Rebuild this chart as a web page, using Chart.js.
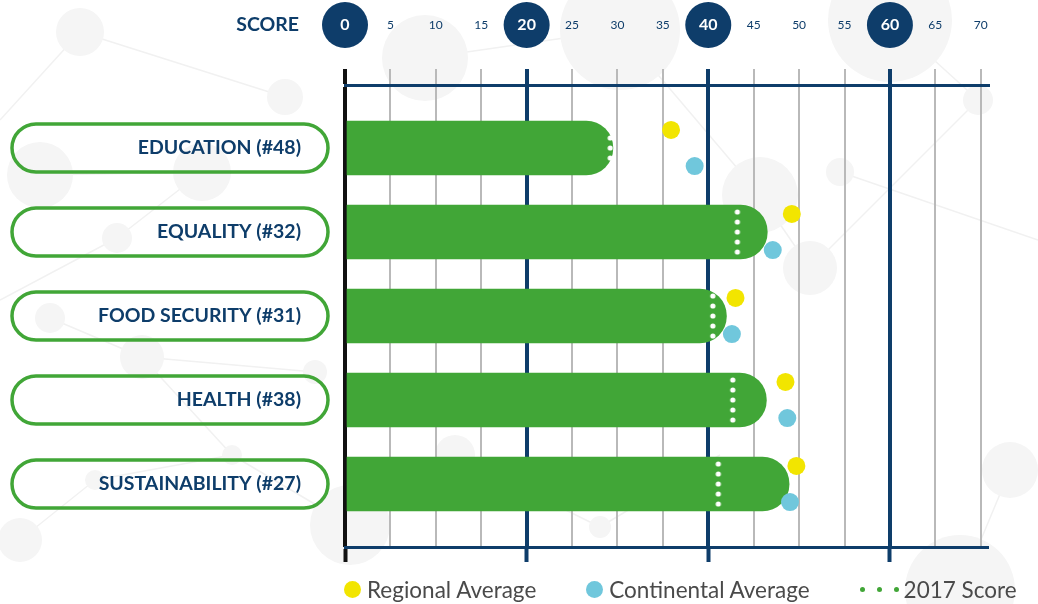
<!DOCTYPE html>
<html>
<head>
<meta charset="utf-8">
<script src="https://cdn.jsdelivr.net/npm/chart.js@4"></script>
<style>
  html, body { margin: 0; padding: 0; background: #ffffff; }
  #wrap { position: relative; width: 1038px; height: 604px; overflow: hidden; }
  #legend { position: absolute; left: 344px; top: 575px; height: 28px; display: flex; align-items: center;
            font-family: Lato, "Noto Sans", sans-serif; font-size: 22.5px; color: #4a4a4a; white-space: nowrap; }
  .item { display: flex; align-items: center; margin-right: 50px; }
  .circle { width: 17px; height: 17px; border-radius: 50%; margin-right: 6px; }
  .dots { display: flex; align-items: center; margin-right: 5px; }
  .dots span { width: 5px; height: 5px; border-radius: 50%; margin: 0 6px; }
  .dots span:first-child { margin-left: 0; }
  .dots span:last-child { margin-right: 0; }
</style>
</head>
<body>
<div id="wrap">
  <canvas id="c" width="1038" height="604"></canvas>
  <div id="legend"></div>
</div>
<script>
// ---------- data ----------
const categories = ['EDUCATION (#48)', 'EQUALITY (#32)', 'FOOD SECURITY (#31)', 'HEALTH (#38)', 'SUSTAINABILITY (#27)'];
const scores = [29.5, 46.5, 42.0, 46.4, 48.9];
const score2017 = [29.2, 43.2, 40.5, 42.7, 41.1];
const regionalAvg = [35.9, 49.2, 43.0, 48.5, 49.7];
const continentalAvg = [38.5, 47.1, 42.6, 48.7, 49.0];
const scoreTicks = [0, 5, 10, 15, 20, 25, 30, 35, 40, 45, 50, 55, 60, 65, 70];
const majorTicks = [0, 20, 40, 60];
const axisTitle = 'SCORE';
const seriesLabels = ['Regional Average', 'Continental Average', '2017 Score', 'Score'];

// ---------- style ----------
const NAVY = '#0e3d6a';
const GREEN = '#41a637';
const YELLOW = '#f2e500';
const BLUE = '#70c7dc';
const DOT_OFFSET = 0.215;   // vertical offset of average markers (in category units)

function makeDotColumn() {
  const c = document.createElement('canvas');
  c.width = 8; c.height = 50;
  const g = c.getContext('2d');
  g.fillStyle = '#ffffff';
  for (let k = 0; k < 5; k++) {
    g.beginPath();
    g.arc(4, 5 + k * 10, 2.6, 0, Math.PI * 2);
    g.fill();
  }
  return c;
}
const dotColumn = makeDotColumn();

const BG_CIRCLES = [[80,32,24],[285,97,18],[40,175,33],[202,172,29],[117,238,15],[50,318,15],[142,357,22],
  [315,372,12],[232,455,10],[95,480,10],[425,58,43],[620,30,60],[890,20,62],[978,100,15],[760,195,38],
  [810,268,27],[840,172,14],[600,527,11],[350,525,40],[455,455,20],[1010,470,28],[960,590,55],[20,540,22]];
const BG_LINES = [[80,32,285,97],[0,120,80,32],[40,175,202,172],[202,172,117,238],[117,238,0,300],
  [50,318,142,357],[142,357,315,372],[142,357,232,455],[95,480,232,455],[232,455,350,525],
  [425,58,620,30],[620,30,760,195],[760,195,810,268],[810,268,978,100],[890,20,978,100],
  [840,172,1038,240],[600,527,720,455],[455,455,600,527],[960,590,1010,470],[20,540,95,480]];

const tv = c => (c && c.tick) ? c.tick.value : NaN;
const isMajor = v => majorTicks.includes(v);
const gridColor = v => v === 0 ? '#111111' : (isMajor(v) ? NAVY : '#b9b9b9');
const gridWidth = v => isMajor(v) ? 4 : 2;

const decorPlugin = {
  id: 'decor',
  beforeDraw(chart) {
    const { ctx, chartArea, scales } = chart;
    const x = scales.x, y = scales.y;
    ctx.save();
    ctx.strokeStyle = '#f1f1f1';
    ctx.lineWidth = 1.5;
    BG_LINES.forEach(([x1, y1, x2, y2]) => { ctx.beginPath(); ctx.moveTo(x1, y1); ctx.lineTo(x2, y2); ctx.stroke(); });
    ctx.fillStyle = '#f5f5f5';
    BG_CIRCLES.forEach(([cx, cy, r]) => { ctx.beginPath(); ctx.arc(cx, cy, r, 0, Math.PI * 2); ctx.fill(); });

    const cy = chartArea.top - 60;
    ctx.fillStyle = NAVY;
    majorTicks.forEach(v => { ctx.beginPath(); ctx.arc(x.getPixelForValue(v), cy, 23, 0, Math.PI * 2); ctx.fill(); });

    ctx.font = 'bold 19.5px Lato';
    ctx.textAlign = 'right';
    ctx.textBaseline = 'middle';
    ctx.fillText(axisTitle, x.getPixelForValue(0) - 46, cy);

    ctx.strokeStyle = GREEN;
    ctx.lineWidth = 3.5;
    categories.forEach((c, i) => {
      const py = y.getPixelForValue(i);
      const left = chartArea.left - 333, w = 316, h = 48, r = 24;
      ctx.beginPath();
      ctx.roundRect(left, py - h / 2, w, h, r);
      ctx.stroke();
    });
    ctx.restore();
  }
};

const htmlLegendPlugin = {
  id: 'htmlLegend',
  afterUpdate(chart) {
    const el = document.getElementById('legend');
    el.innerHTML = '';
    const items = Chart.defaults.plugins.legend.labels.generateLabels(chart)
      .filter(it => chart.data.datasets[it.datasetIndex].type === 'scatter');
    items.forEach(it => {
      const item = document.createElement('div');
      item.className = 'item';
      const ds = chart.data.datasets[it.datasetIndex];
      const m = document.createElement('div');
      if (ds.pointStyle === dotColumn) {
        m.className = 'dots';
        for (let k = 0; k < 3; k++) { const s = document.createElement('span'); s.style.background = ds.backgroundColor; m.appendChild(s); }
      } else {
        m.className = 'circle';
        m.style.background = ds.backgroundColor;
      }
      item.appendChild(m);
      const t = document.createElement('span');
      t.textContent = it.text;
      item.appendChild(t);
      el.appendChild(item);
    });
  }
};

const setTicks = ax => { ax.ticks = scoreTicks.map(v => ({ value: v })); };

new Chart(document.getElementById('c'), {
  type: 'bar',
  data: {
    datasets: [
      { type: 'scatter', label: seriesLabels[0], data: regionalAvg.map((v, i) => ({ x: v, y: i - DOT_OFFSET })),
        backgroundColor: YELLOW, borderWidth: 0, pointRadius: 9, pointHoverRadius: 9 },
      { type: 'scatter', label: seriesLabels[1], data: continentalAvg.map((v, i) => ({ x: v, y: i + DOT_OFFSET })),
        backgroundColor: BLUE, borderWidth: 0, pointRadius: 9, pointHoverRadius: 9 },
      { type: 'scatter', label: seriesLabels[2], data: score2017.map((v, i) => ({ x: v, y: i })),
        backgroundColor: GREEN, borderWidth: 0, pointStyle: dotColumn, pointRadius: 5, pointHoverRadius: 5 },
      { type: 'bar', label: seriesLabels[3], indexAxis: 'y', data: scores.map((v, i) => ({ x: v, y: i })),
        backgroundColor: GREEN, borderWidth: 0, barThickness: 54, borderRadius: 27, borderSkipped: 'start' }
    ]
  },
  options: {
    responsive: false,
    animation: false,
    events: [],
    layout: { padding: { left: 0, right: 50, top: 16, bottom: 42 } },
    plugins: { legend: { display: false }, tooltip: { enabled: false } },
    scales: {
      x: {
        type: 'linear', position: 'top', min: 0, max: 70.8, offset: false,
        afterBuildTicks: setTicks,
        afterFit: ax => { ax.height = 69; },
        grid: {
          offset: false,
          color: c => gridColor(tv(c)), lineWidth: c => gridWidth(tv(c)),
          drawTicks: true, tickLength: 16,
          tickColor: c => gridColor(tv(c)), tickWidth: c => gridWidth(tv(c))
        },
        border: { display: true, color: NAVY, width: 3 },
        ticks: {
          padding: 35, autoSkip: false, maxRotation: 0,
          color: c => isMajor(tv(c)) ? '#ffffff' : NAVY,
          font: c => isMajor(tv(c))
            ? { family: 'Lato', size: 16, weight: 'bold', lineHeight: '18px' }
            : { family: 'Lato', size: 12, weight: 'normal', lineHeight: '18px' }
        }
      },
      x2: {
        type: 'linear', position: 'bottom', min: 0, max: 70.8, offset: false,
        afterBuildTicks: setTicks,
        afterFit: ax => { ax.height = 15; },
        grid: {
          offset: false,
          drawOnChartArea: false, drawTicks: true, tickLength: 15,
          color: 'rgba(0,0,0,0)',
          tickColor: c => isMajor(tv(c)) ? gridColor(tv(c)) : 'rgba(0,0,0,0)',
          tickWidth: 4
        },
        border: { display: true, color: NAVY, width: 3 },
        ticks: { display: false }
      },
      y: {
        type: 'linear', position: 'left', min: -0.75, max: 4.75, reverse: true, offset: false,
        afterBuildTicks: ax => { ax.ticks = categories.map((c, i) => ({ value: i })); },
        afterFit: ax => { ax.width = 345; },
        grid: { display: false, offset: false },
        border: { display: false },
        ticks: {
          autoSkip: false, padding: 36, color: NAVY,
          font: { family: 'Lato', size: 19.5, weight: 'bold' },
          callback: v => categories[v]
        }
      }
    }
  },
  plugins: [decorPlugin, htmlLegendPlugin]
});
</script>
</body>
</html>
